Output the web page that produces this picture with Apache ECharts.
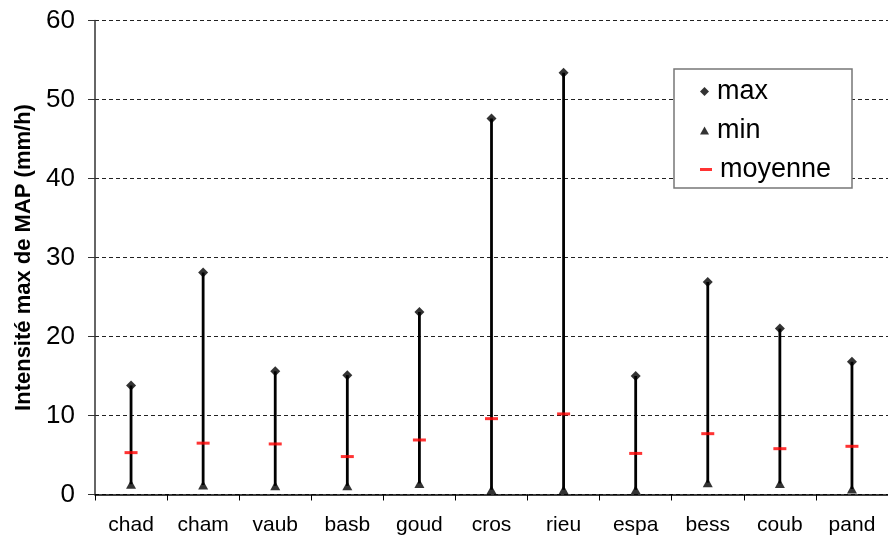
<!DOCTYPE html>
<html>
<head>
<meta charset="utf-8">
<script src="https://cdn.jsdelivr.net/npm/echarts@6/dist/echarts.min.js"></script>
<style>
  html, body { margin: 0; padding: 0; background: #fff; }
  #chart { width: 888px; height: 539px; }
</style>
</head>
<body>
<div id="chart"></div>
<script>
// données
const stations = ['chad', 'cham', 'vaub', 'basb', 'goud', 'cros', 'rieu', 'espa', 'bess', 'coub', 'pand'];
const maxValues = [13.8, 28.1, 15.6, 15.1, 23.1, 47.6, 53.4, 15.0, 26.9, 21.0, 16.8];
const minValues = [1.3, 1.2, 1.1, 1.1, 1.4, 0.6, 0.6, 0.6, 1.5, 1.4, 0.7];
const meanValues = [5.3, 6.5, 6.4, 4.8, 6.9, 9.6, 10.2, 5.2, 7.7, 5.8, 6.1];
const yTicks = [0, 10, 20, 30, 40, 50, 60];

const FONT = '"Liberation Sans", Arial, sans-serif';

function init() {
    const chart = echarts.init(document.getElementById('chart'));

    // segments min -> max
    const rangeData = stations.map(function (s, i) {
        return [i, minValues[i], maxValues[i]];
    });

    const legendBase = {
        orient: 'vertical',
        padding: 0,
        left: 700,
        selectedMode: false,
        textStyle: { fontFamily: FONT, fontSize: 27, color: '#000', padding: [0, 0, 0, 3] }
    };

    const option = {
        animation: false,
        backgroundColor: '#fff',
        grid: { left: 95, right: -7, top: 20.5, bottom: 44.5 },
        xAxis: {
            type: 'category',
            data: stations,
            boundaryGap: true,
            axisLine: { lineStyle: { color: '#000', width: 1.5 } },
            axisTick: { show: true, length: 6, interval: 0, lineStyle: { color: '#000' } },
            axisLabel: { margin: 20, fontFamily: FONT, fontSize: 21, color: '#000', interval: 0 }
        },
        yAxis: {
            type: 'value',
            min: yTicks[0],
            max: yTicks[yTicks.length - 1],
            interval: 10,
            name: 'Intensité max de MAP (mm/h)',
            nameLocation: 'middle',
            nameGap: 59,
            nameTextStyle: { fontFamily: FONT, fontSize: 22, fontWeight: 'bold', color: '#000' },
            axisLine: { show: true, lineStyle: { color: '#333', width: 1.5 } },
            axisTick: { show: true, length: 7, lineStyle: { color: '#333' } },
            axisLabel: { margin: 20, fontFamily: FONT, fontSize: 26, color: '#000' },
            splitLine: { show: true, lineStyle: { color: '#222', type: [4, 3], width: 1 } }
        },
        legend: [
            Object.assign({}, legendBase, {
                top: 78, itemWidth: 9, itemHeight: 9,
                data: [{ name: 'max', icon: 'diamond' }]
            }),
            Object.assign({}, legendBase, {
                top: 117, itemWidth: 9, itemHeight: 8,
                data: [{ name: 'min', icon: 'triangle' }]
            }),
            Object.assign({}, legendBase, {
                top: 156, itemWidth: 12, itemHeight: 3,
                data: [{ name: 'moyenne', icon: 'rect' }]
            })
        ],
        graphic: [{
            type: 'rect',
            z: 3,
            shape: { x: 674, y: 69, width: 178, height: 119 },
            style: { fill: '#fff', stroke: '#777', lineWidth: 1.5 }
        }],
        series: [
            {
                type: 'custom',
                name: 'plage',
                z: 1,
                data: rangeData,
                encode: { x: 0, y: [1, 2] },
                renderItem: function (params, api) {
                    const p0 = api.coord([api.value(0), api.value(1)]);
                    const p1 = api.coord([api.value(0), api.value(2)]);
                    return {
                        type: 'line',
                        shape: { x1: p0[0], y1: p0[1], x2: p1[0], y2: p1[1] },
                        style: { stroke: '#000', lineWidth: 2.8 }
                    };
                }
            },
            {
                type: 'scatter',
                name: 'max',
                z: 3,
                data: maxValues,
                symbol: 'diamond',
                symbolSize: [10, 10],
                itemStyle: { color: '#000' }
            },
            {
                type: 'scatter',
                name: 'min',
                z: 3,
                data: minValues,
                symbol: 'triangle',
                symbolSize: [10, 9],
                itemStyle: { color: '#000' }
            },
            {
                type: 'scatter',
                name: 'moyenne',
                z: 4,
                data: meanValues,
                symbol: 'rect',
                symbolSize: [13, 3],
                itemStyle: { color: '#ff0000' }
            }
        ]
    };

    chart.setOption(option);
}

window.addEventListener('DOMContentLoaded', init);
</script>
</body>
</html>
